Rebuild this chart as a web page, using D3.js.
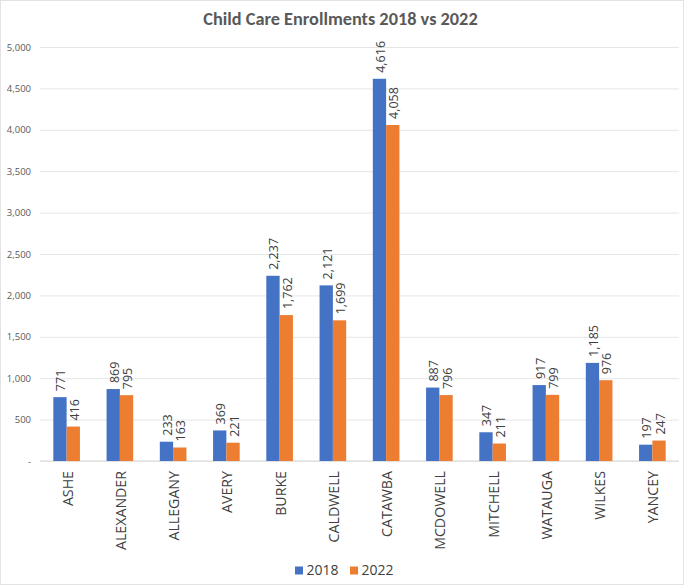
<!DOCTYPE html>
<html>
<head>
<meta charset="utf-8">
<script src="https://cdn.jsdelivr.net/npm/d3@7"></script>
<style>
  body { margin: 0; background: #fff; }
  text { font-family: "Open Sans", "Noto Sans", sans-serif; }
  .title { font-family: Calibri, Carlito, Lato, sans-serif; }
</style>
</head>
<body>
<div class="chart-div"></div>
<script>
const counties = ["ASHE", "ALEXANDER", "ALLEGANY", "AVERY", "BURKE", "CALDWELL", "CATAWBA", "MCDOWELL", "MITCHELL", "WATAUGA", "WILKES", "YANCEY"]
const values2018 = [771, 869, 233, 369, 2237, 2121, 4616, 887, 347, 917, 1185, 197]
const values2022 = [416, 795, 163, 221, 1762, 1699, 4058, 796, 211, 799, 976, 247]
const seriesNames = ["2018", "2022"]
const yTicks = [0, 500, 1000, 1500, 2000, 2500, 3000, 3500, 4000, 4500, 5000]

const chart = () => {

    let width = 687, height = 588
    let colors = ["#4472c4", "#ed7d31"]

    let svg = d3.select(".chart-div").append("svg")
        .attr("width", width)
        .attr("height", height)

    // frame
    svg.append("rect")
        .attr("x", 0.5).attr("y", 0.5)
        .attr("width", 683).attr("height", 584)
        .attr("fill", "#fff")
        .attr("stroke", "#e3e3e3")

    let plot = {left: 40, right: 679, top: 47, bottom: 461}

    let x = d3.scaleBand()
        .domain(counties)
        .range([plot.left, plot.right])
        .paddingInner(0)
        .paddingOuter(0)

    let xSeries = d3.scaleBand()
        .domain(seriesNames)
        .range([0, x.bandwidth()])
        .paddingInner(0)
        .paddingOuter(1)

    let y = d3.scaleLinear()
        .domain([0, 5000])
        .range([plot.bottom, plot.top])

    // gridlines + y labels
    let yAxis = svg.append("g")
        .attr("transform", `translate(${plot.left},0)`)
        .call(d3.axisLeft(y)
            .tickValues(yTicks)
            .tickSize(-(plot.right - plot.left))
            .tickPadding(9)
            .tickFormat(d => d === 0 ? "-" : d3.format(",")(d)))
    yAxis.select(".domain").remove()
    yAxis.selectAll(".tick line").attr("stroke", "#e6e6e6")
    yAxis.selectAll(".tick text")
        .attr("fill", "#595959")
        .style("font-size", "9.5px")

    // baseline
    svg.append("line")
        .attr("x1", plot.left).attr("x2", plot.right)
        .attr("y1", y(0)).attr("y2", y(0))
        .attr("stroke", "#d9d9d9")

    let rows = counties.map((c, i) => ({county: c, values: [values2018[i], values2022[i]]}))

    let groups = svg.selectAll("g.county")
        .data(rows)
        .enter().append("g")
        .attr("class", "county")
        .attr("transform", d => `translate(${x(d.county)},0)`)

    groups.selectAll("rect")
        .data(d => d.values.map((v, i) => ({series: seriesNames[i], value: v, i: i})))
        .enter().append("rect")
        .attr("x", d => xSeries(d.series))
        .attr("y", d => y(d.value))
        .attr("width", xSeries.bandwidth())
        .attr("height", d => y(0) - y(d.value))
        .attr("fill", d => colors[d.i])

    groups.selectAll("text.label")
        .data(d => d.values.map((v, i) => ({series: seriesNames[i], value: v, i: i})))
        .enter().append("text")
        .attr("class", "label")
        .attr("transform", d => `translate(${xSeries(d.series) + xSeries.bandwidth() / 2 + 5.5},${y(d.value) - 6}) rotate(-90)`)
        .attr("fill", "#404040")
        .style("font-size", "12.5px")
        .text(d => d3.format(",")(d.value))

    // category labels
    svg.selectAll("text.cat")
        .data(counties)
        .enter().append("text")
        .attr("class", "cat")
        .attr("transform", d => `translate(${x(d) + x.bandwidth() / 2 + 6},${plot.bottom + 10}) rotate(-90)`)
        .attr("text-anchor", "end")
        .attr("fill", "#404040")
        .style("font-size", "14.2px")
        .text(d => d)

    // title
    svg.append("text")
        .attr("class", "title")
        .attr("x", 340.5)
        .attr("y", 25)
        .attr("text-anchor", "middle")
        .attr("fill", "#595959")
        .style("font-size", "18.3px")
        .style("font-weight", "bold")
        .text("Child Care Enrollments 2018 vs 2022")

    // legend
    let legend = svg.selectAll("g.legend")
        .data(seriesNames)
        .enter().append("g")
        .attr("class", "legend")
        .attr("transform", (d, i) => `translate(${295 + i * 55},566.5)`)

    legend.append("rect")
        .attr("width", 8).attr("height", 8)
        .attr("fill", (d, i) => colors[i])

    legend.append("text")
        .attr("x", 11.5)
        .attr("y", 8.7)
        .attr("fill", "#404040")
        .style("font-size", "14px")
        .text(d => d)
}

chart()
</script>
</body>
</html>
